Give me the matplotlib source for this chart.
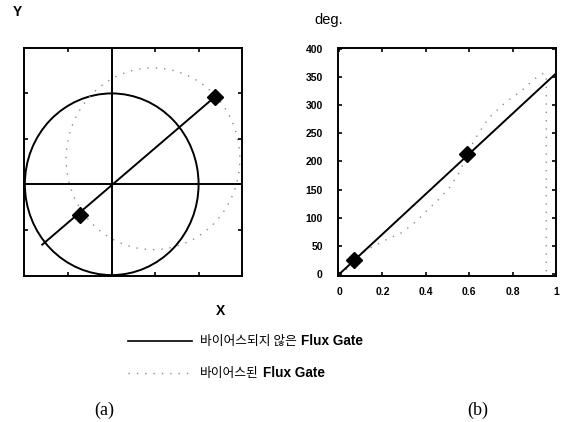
import matplotlib
matplotlib.use("Agg")
import matplotlib.pyplot as plt
from matplotlib.patches import Circle

plt.rcParams['font.family'] = ['Liberation Sans', 'Noto Sans CJK KR', 'DejaVu Sans']

# (a) field circles in the X-Y plane
unbiased_center = (0.0, 0.0)
unbiased_radius = 2.0
biased_center = (0.95, 0.56)
biased_radius = 2.0
field_line_x = [-1.6, 2.37]
field_line_y = [-1.33, 1.92]
field_marker_x = [-0.73, 2.37]
field_marker_y = [-0.68, 1.92]
grid_ticks = [-1, 0, 1, 2]

# (b) measured heading vs. normalised rotation
unbiased_x = [0.0, 1.0]
unbiased_deg = [0.0, 356.0]
biased_x = [0.0, 0.07, 0.12, 0.21, 0.29, 0.35, 0.405, 0.455, 0.51, 0.56, 0.59,
            0.63, 0.69, 0.765, 0.84, 0.90, 0.935, 0.95, 0.955, 0.955]
biased_deg = [0.0, 18, 42, 60, 74, 92, 113, 131, 154, 184, 214,
              242, 277, 304, 325, 346, 355, 356, 350, 0.0]
heading_marker_x = [0.07, 0.59]
heading_marker_y = [25, 213]
x_ticks = [0, 0.2, 0.4, 0.6, 0.8, 1]
x_tick_labels = ['0', '0.2', '0.4', '0.6', '0.8', '1']
y_ticks = [0, 50, 100, 150, 200, 250, 300, 350, 400]

dot_style = dict(color='0.55', lw=1.0, ls=(0, (1, 5)))

fig = plt.figure(figsize=(5.64, 4.22), dpi=100)
ax_a = fig.add_axes([24 / 564, 1 - 276 / 422, 218 / 564, 228 / 422])
ax_b = fig.add_axes([338 / 564, 1 - 276 / 422, 218 / 564, 228 / 422])

for ax in (ax_a, ax_b):
    for sp in ax.spines.values():
        sp.set_linewidth(1.4)
    ax.tick_params(direction='in', length=3, width=1.2,
                   top=True, right=True)

# --- panel (a)
ax_a.set_xlim(-2.02, 3.0)
ax_a.set_ylim(-2.02, 3.0)
ax_a.axhline(0, color='black', lw=1.4)
ax_a.axvline(0, color='black', lw=1.4)
ax_a.add_patch(Circle(unbiased_center, unbiased_radius, fill=False,
                      ec='black', lw=1.4))
ax_a.add_patch(Circle(biased_center, biased_radius, fill=False,
                      ec='0.55', lw=1.0, ls=(0, (1, 5))))
ax_a.plot(field_line_x, field_line_y, color='black', lw=1.4)
ax_a.plot(field_marker_x, field_marker_y, 'D', color='black', ms=8, ls='none')
ax_a.set_xticks(grid_ticks)
ax_a.set_yticks(grid_ticks)
ax_a.set_xticklabels([])
ax_a.set_yticklabels([])

# --- panel (b)
ax_b.set_xlim(-0.005, 1.0)
ax_b.set_ylim(-3, 401)
ax_b.plot(biased_x, biased_deg, **dot_style)
ax_b.plot(unbiased_x, unbiased_deg, color='black', lw=1.4)
ax_b.plot(heading_marker_x, heading_marker_y, 'D', color='black', ms=8, ls='none')
ax_b.set_xticks(x_ticks)
ax_b.set_xticklabels(x_tick_labels)
ax_b.set_yticks(y_ticks)
ax_b.tick_params(axis='x', labelsize=7.5, pad=8)
ax_b.tick_params(axis='y', labelsize=7.5, pad=11)
for lab in ax_b.get_xticklabels() + ax_b.get_yticklabels():
    lab.set_fontweight('bold')

# axis captions
fig.text(17 / 564, 1 - 12 / 422, 'Y', fontsize=10, fontweight='bold',
         ha='center', va='center')
fig.text(220 / 564, 1 - 311 / 422, 'X', fontsize=10, fontweight='bold',
         ha='center', va='center')
fig.text(329 / 564, 1 - 20 / 422, 'deg.', fontsize=10.5, ha='center', va='center')

# legend drawn under the panels
fig.add_artist(plt.Line2D([128 / 564, 192 / 564], [1 - 341 / 422, 1 - 341 / 422],
                          color='black', lw=1.2))
fig.add_artist(plt.Line2D([128 / 564, 192 / 564], [1 - 373 / 422, 1 - 373 / 422],
                          **dot_style))
for y, label in [(341, '바이어스되지 않은'), (373, '바이어스된')]:
    t = fig.text(200 / 564, 1 - y / 422, label, fontsize=9.2,
                 family=['Noto Sans CJK KR', 'DejaVu Sans'],
                 ha='left', va='center')
    fig.add_artist(plt.Annotation('Flux Gate', xy=(1, 0.5), xycoords=t,
                                  xytext=(3, 0), textcoords='offset points',
                                  fontsize=9.8, fontweight='bold',
                                  ha='left', va='center'))

fig.text(104 / 564, 1 - 410 / 422, '(a)', fontsize=13,
         family='Liberation Serif', ha='center', va='center')
fig.text(478 / 564, 1 - 410 / 422, '(b)', fontsize=13,
         family='Liberation Serif', ha='center', va='center')

fig.savefig('out.png', dpi=100)
